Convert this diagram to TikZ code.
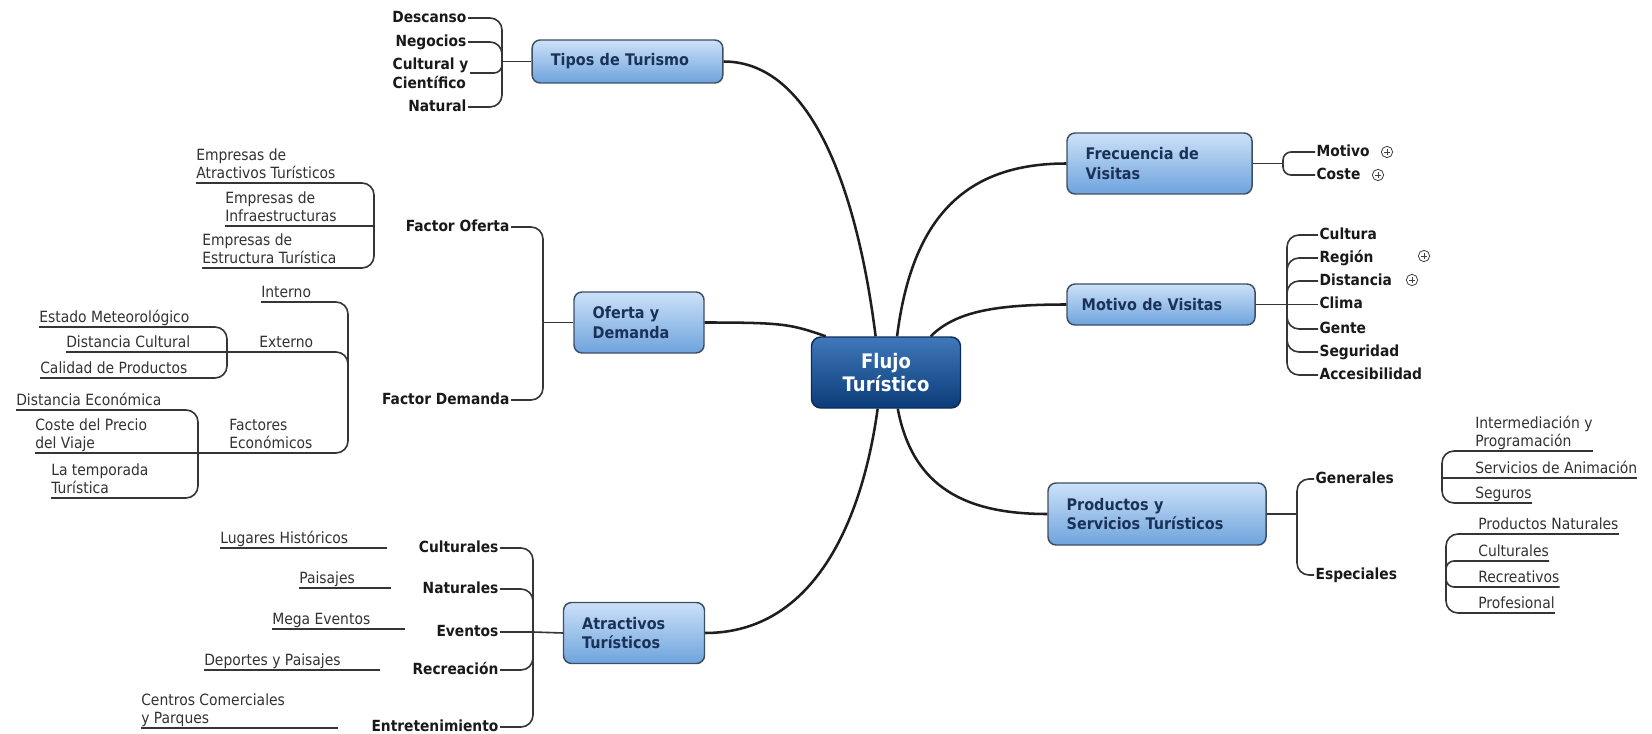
\documentclass[tikz,border=0pt]{standalone}
\usepackage{fontspec}
\setmainfont{DejaVu Sans}[FakeStretch=0.9]
\usepackage{tikz}
\usetikzlibrary{calc}
\usepackage{xcolor}

\definecolor{topicTop}{RGB}{204,225,248}
\definecolor{topicBot}{RGB}{110,163,221}
\definecolor{topicEdge}{RGB}{62,78,100}
\definecolor{topicText}{RGB}{27,50,88}
\definecolor{coreTop}{RGB}{64,120,186}
\definecolor{coreBot}{RGB}{10,60,120}
\definecolor{coreEdge}{RGB}{12,45,92}
\definecolor{branchLine}{RGB}{30,30,30}
\definecolor{leafText}{RGB}{50,50,50}

\newcommand{\centralfont}{\bfseries\fontsize{15}{17}\selectfont}
\newcommand{\topicfont}{\bfseries\fontsize{12}{14.5}\selectfont}
\newcommand{\branchfont}{\bfseries\fontsize{11.5}{14.3}\selectfont}
\newcommand{\leaffont}{\fontsize{11.6}{13.5}\selectfont}

\begin{document}
\begin{tikzpicture}[x=0.75pt,y=0.75pt,yscale=-1,xscale=1,
  core/.style={draw=coreEdge, line width=1.1pt, rounded corners=7pt, top color=coreTop, bottom color=coreBot, text=white, font=\centralfont, align=center, minimum width=111.75pt, minimum height=53.25pt},
  topic/.style={draw=topicEdge, line width=1.1pt, rounded corners=6pt, top color=topicTop, bottom color=topicBot, text=topicText, font=\topicfont, align=left, inner xsep=14pt, inner ysep=0pt},
  branch/.style={font=\branchfont, text=black!90, inner sep=1pt, text height=8.6pt, text depth=2.4pt, align=left},
  leaf/.style={font=\leaffont, text=leafText, inner sep=0pt, text depth=3pt, align=left, anchor=south west},
  trunk/.style={draw=branchLine, line width=1.9pt},
  fork/.style={draw=branchLine!90, line width=1.2pt, rounded corners=9pt},
  expander/.style={circle, draw=black!75, line width=0.6pt, minimum size=8.5pt, inner sep=0pt, path picture={\draw[line width=0.6pt] ([xshift=-2.3pt]path picture bounding box.center) -- ([xshift=2.3pt]path picture bounding box.center) ([yshift=-2.3pt]path picture bounding box.center) -- ([yshift=2.3pt]path picture bounding box.center);}}
]
\path[fill=white] (0,0) rectangle (1652,734);
\useasboundingbox (0,0) rectangle (1652,734);

% Central topic
\node[core] (flujo) at (886,372.5) {Flujo\\Turístico};

% Main topics
\node[topic, text width=115pt, minimum height=32.25pt] (tipos) at (627.5,61.5) {Tipos de Turismo};
\node[topic, text width=69.5pt, minimum height=45.75pt] (oferta) at (639,322.5) {Oferta y\\Demanda};
\node[topic, text width=77.75pt, minimum height=45.75pt] (atractivos) at (634,633) {Atractivos\\Turísticos};
\node[topic, text width=110.75pt, minimum height=45.75pt] (frecuencia) at (1159.5,163.5) {Frecuencia de\\Visitas};
\node[topic, inner xsep=11pt, text width=119pt, minimum height=30.75pt] (motivo) at (1161,304.5) {Motivo de Visitas};
\node[topic, text width=135.5pt, minimum height=46.5pt] (productos) at (1157,514) {Productos y\\Servicios Turísticos};

%Curve Lines
\draw[trunk] (tipos.east) .. controls ($(tipos.east)+(97,0)$) and ($(flujo.106)+(-15,-120)$) .. (flujo.106);
\draw[trunk] (flujo.73) .. controls ($(flujo.73)+(15,-120)$) and ($(frecuencia.west)+(-100,0)$) .. (frecuencia.west);
\draw[trunk] (flujo.39) .. controls ($(flujo.39)+(25,-25)$) and ($(motivo.west)+(-70,0)$) .. (motivo.west);
\draw[trunk] (oferta.east) .. controls ($(oferta.east)+(80,0)$) and ($(flujo.149)+(-35,-12)$) .. (flujo.149);
\draw[trunk] (atractivos.east) .. controls ($(atractivos.east)+(110,0)$) and ($(flujo.257)+(-15,110)$) .. (flujo.257);
\draw[trunk] (flujo.288) .. controls ($(flujo.288)+(15,80)$) and ($(productos.west)+(-80,0)$) .. (productos.west);

% Tipos de Turismo
\coordinate (tiposJ) at (502,61.5);
\draw[fork] (tipos.west) -- (tiposJ);
\node[branch, anchor=east] (descanso) at (468,18) {Descanso};
\node[branch, anchor=east] (negocios) at (468,42) {Negocios};
\node[branch, anchor=east, text height={}, text depth={}] (cultural) at (470,73) {Cultural y\\Científico};
\node[branch, anchor=east] (natural) at (468,107) {Natural};
\draw[fork] (tiposJ) |- (descanso.east);
\draw[fork] (tiposJ) |- (negocios.east);
\draw[fork, rounded corners=6pt] (tiposJ) |- (cultural.east);
\draw[fork] (tiposJ) |- (natural.east);

% Oferta y Demanda
\coordinate (ofertaJ) at (543,322.5);
\draw[fork] (oferta.west) -- (ofertaJ);
\node[branch, anchor=east] (fOferta) at (511,227) {Factor Oferta};
\node[branch, anchor=east] (fDemanda) at (511,400) {Factor Demanda};
\draw[fork] (ofertaJ) |- (fOferta.east);
\draw[fork] (ofertaJ) |- (fDemanda.east);

% Text Node
\coordinate (fOfertaJ) at (374,226);
\node[leaf] (empAtr) at (196,183) {Empresas de\\Atractivos Turísticos};
\node[leaf] (empInf) at (225,226) {Empresas de\\Infraestructuras};
\node[leaf] (empEst) at (202,268) {Empresas de\\Estructura Turística};
\draw[fork] (fOfertaJ) |- (empAtr.south west);
\draw[fork] (fOfertaJ) -- (empInf.south west);
\draw[fork] (fOfertaJ) |- (empEst.south west);

% Text Node
\coordinate (fDemandaJ) at (348,400);
\coordinate (externoJ) at (227,352);
\coordinate (economJ) at (198,453);
\node[leaf] (interno) at (261,302) {Interno};
\node[leaf] (externo) at (259,352) {Externo};
\node[leaf] (econom) at (229,453) {Factores\\Económicos};
\draw[fork] (fDemandaJ) |- (interno.south west);
\draw[fork] (fDemandaJ) |- (externoJ);
\draw[fork] (fDemandaJ) |- (economJ);

\node[leaf] (meteo) at (39,327) {Estado Meteorológico};
\node[leaf] (distCult) at (66,352) {Distancia Cultural};
\node[leaf] (calidad) at (40,378) {Calidad de Productos};
\draw[fork] (externoJ) |- (meteo.south west);
\draw[fork] (externoJ) -- (distCult.south west);
\draw[fork] (externoJ) |- (calidad.south west);

\node[leaf] (distEcon) at (16,410) {Distancia Económica};
\node[leaf] (costeV) at (35,453) {Coste del Precio\\del Viaje};
\node[leaf] (temporada) at (51,498) {La temporada\\Turística};
\draw[fork] (economJ) |- (distEcon.south west);
\draw[fork] (economJ) -- (costeV.south west);
\draw[fork] (economJ) |- (temporada.south west);

% Atractivos Turisticos
\coordinate (atractivosJ) at (533,632);
\draw[fork] (atractivos.west) -- (atractivosJ);
\node[branch, anchor=east] (culturales) at (500,548) {Culturales};
\node[branch, anchor=east] (naturales) at (500,589) {Naturales};
\node[branch, anchor=east] (eventos) at (500,632) {Eventos};
\node[branch, anchor=east] (recreacion) at (500,670) {Recreación};
\node[branch, anchor=east] (entreten) at (500,727) {Entretenimiento};
\draw[fork] (atractivosJ) |- (culturales.east);
\draw[fork] (atractivosJ) |- (naturales.east);
\draw[fork] (atractivosJ) -- (eventos.east);
\draw[fork] (atractivosJ) |- (recreacion.east);
\draw[fork] (atractivosJ) |- (entreten.east);

\node[leaf] (lugares) at (220,548) {Lugares Históricos};
\draw[fork] (lugares.south west) -- +(167,0);
\node[leaf] (paisajes) at (299,588) {Paisajes};
\draw[fork] (paisajes.south west) -- +(92,0);
\node[leaf] (mega) at (272,629) {Mega Eventos};
\draw[fork] (mega.south west) -- +(133,0);
\node[leaf] (deportes) at (204,670) {Deportes y Paisajes};
\draw[fork] (deportes.south west) -- +(176,0);
\node[leaf] (centros) at (141,728) {Centros Comerciales\\y Parques};
\draw[fork] (centros.south west) -- +(197,0);

% Frecuencia de Visitas
\coordinate (frecuenciaJ) at (1283,163.5);
\draw[fork] (frecuencia.east) -- (frecuenciaJ);
\node[branch, anchor=west] (motivoF) at (1315,152) {Motivo};
\node[branch, anchor=west] (costeF) at (1315,175) {Coste};
\draw[fork, rounded corners=6pt] (frecuenciaJ) |- (motivoF.west);
\draw[fork, rounded corners=6pt] (frecuenciaJ) |- (costeF.west);
\node[expander] (motivoX) at (1387,152) {};
\node[expander] (costeX) at (1378,175) {};

% Motivo de Visitas
\coordinate (motivoJ) at (1287,304.5);
\draw[fork] (motivo.east) -- (motivoJ);
\node[branch, anchor=west] (cultura) at (1318,235) {Cultura};
\node[branch, anchor=west] (region) at (1318,258) {Región};
\node[branch, anchor=west] (distancia) at (1318,281) {Distancia};
\node[branch, anchor=west] (clima) at (1318,304.5) {Clima};
\node[branch, anchor=west] (gente) at (1318,329) {Gente};
\node[branch, anchor=west] (seguridad) at (1318,352) {Seguridad};
\node[branch, anchor=west] (accesib) at (1318,375) {Accesibilidad};
\draw[fork] (motivoJ) |- (cultura.west);
\draw[fork] (motivoJ) |- (region.west);
\draw[fork] (motivoJ) |- (distancia.west);
\draw[fork] (motivoJ) -- (clima.west);
\draw[fork] (motivoJ) |- (gente.west);
\draw[fork] (motivoJ) |- (seguridad.west);
\draw[fork] (motivoJ) |- (accesib.west);
\node[expander] (regionX) at (1424,256) {};
\node[expander] (distanciaX) at (1412,280) {};

% Productos y Servicios Turisticos
\coordinate (productosJ) at (1297,514);
\draw[fork] (productos.east) -- (productosJ);
\node[branch, anchor=west] (generales) at (1314,479) {Generales};
\node[branch, anchor=west] (especiales) at (1314,575) {Especiales};
\draw[fork] (productosJ) |- (generales.west);
\draw[fork] (productosJ) |- (especiales.west);

\coordinate (generalesJ) at (1442,478);
\node[leaf] (intermed) at (1475,451) {Intermediación y\\Programación};
\node[leaf] (servicios) at (1475,478) {Servicios de Animación};
\node[leaf] (seguros) at (1475,503) {Seguros};
\draw[fork] (generalesJ) |- (intermed.south east);
\draw[fork] (generalesJ) -- (servicios.south east);
\draw[fork] (generalesJ) |- (seguros.south east);

\coordinate (especialesJ) at (1446,575);
\node[leaf] (prodNat) at (1478,534) {Productos Naturales};
\node[leaf] (culturalesP) at (1478,561) {Culturales};
\node[leaf] (recreativos) at (1478,587) {Recreativos};
\node[leaf] (profesional) at (1478,613) {Profesional};
\draw[fork] (especialesJ) |- (prodNat.south east);
\draw[fork, rounded corners=6pt] (especialesJ) |- (culturalesP.south east);
\draw[fork, rounded corners=6pt] (especialesJ) |- (recreativos.south east);
\draw[fork] (especialesJ) |- (profesional.south east);

\end{tikzpicture}
\end{document}
